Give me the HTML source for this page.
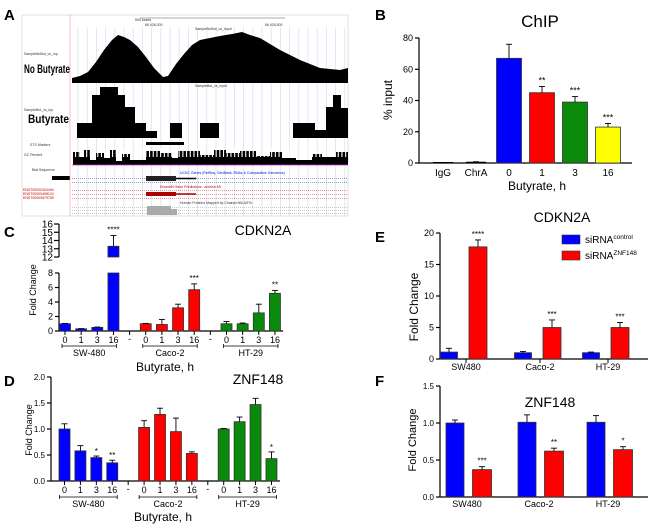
<!DOCTYPE html>
<html><head><meta charset="utf-8"><style>
html,body{margin:0;padding:0;background:#fff;}
svg{display:block;font-family:"Liberation Sans",Arial,sans-serif;}
</style></head><body>
<svg id="fig" width="650" height="529" viewBox="0 0 650 529" xmlns="http://www.w3.org/2000/svg">
<g font-weight="bold" font-size="15">
<text x="4" y="20">A</text>
<text x="375" y="20">B</text>
<text x="4" y="237">C</text>
<text x="375" y="242">E</text>
<text x="4" y="386">D</text>
<text x="375" y="386">F</text>
</g>
<g id="browser">
<rect x="22" y="15" width="326" height="201" fill="#fff" stroke="#ccc" stroke-width="0.6"/>
<g id="stripes"></g>
<line x1="140" y1="18" x2="285" y2="18" stroke="#555" stroke-width="0.6"/>
<text x="135" y="21" font-size="3.5" fill="#333">500 bases</text>
<text x="145" y="26" font-size="3.5" fill="#333">66,926,000</text>
<text x="265" y="26" font-size="3.5" fill="#333">66,926,500</text>
<text x="195" y="30" font-size="3.5" fill="#333">SampleNoBut_vs_input</text>
<text x="24" y="55" font-size="3.5" fill="#333">SampleNoBut_vs_inp</text>
<text x="24" y="111" font-size="3.5" fill="#333">SampleBut_vs_inp</text>
<text x="30" y="146" font-size="3.5" fill="#333">STS Markers</text>
<text x="24" y="156" font-size="3.5" fill="#333">GC Percent</text>
<text x="32" y="171" font-size="3.5" fill="#333">Blat Sequence</text>
<polygon fill="#000" points="72,83 72,78 80,76 88,72 96,62 104,50 112,40 118,35 124,37 130,40 138,47 146,57 154,68 160,74 163,77 168,76 176,64 184,54 192,45 200,40 210,38 220,36 232,34 242,32 250,35 260,38 270,44 280,50 290,55 300,60 310,64 320,68 330,69 340,70 348,68 348,83"/>
<text x="24" y="73" font-size="11.5" font-weight="bold" textLength="46" lengthAdjust="spacingAndGlyphs">No Butyrate</text>
<text x="195" y="87" font-size="3.5" fill="#333">SampleBut_vs_input</text>
<polygon fill="#000" points="72,138 77,138 77,123 92,123 92,95 100,95 100,87 118,87 118,95 125,95 125,107 135,107 135,123 146,123 146,131 157,131 157,138 170,138 170,123 182,123 182,138 200,138 200,123 219,123 219,138 293,138 293,123 315,123 315,130 326,130 326,107 333,107 333,95 341,95 341,108 348,108 348,138"/>
<text x="28" y="123" font-size="11.5" font-weight="bold" textLength="41" lengthAdjust="spacingAndGlyphs">Butyrate</text>
<rect x="146" y="142" width="38" height="3" fill="#000"/>
<g id="gc"></g>
<line x1="72" y1="165" x2="348" y2="165" stroke="#c3c" stroke-width="0.8"/>
<text x="180" y="174" font-size="3.5" fill="#00c">UCSC Genes (RefSeq, GenBank, RNAs &amp; Comparative Genomics)</text>
<line x1="72" y1="178.5" x2="348" y2="178.5" stroke="#339" stroke-width="0.5" stroke-dasharray="1,1"/>
<line x1="72" y1="182.5" x2="348" y2="182.5" stroke="#339" stroke-width="0.5" stroke-dasharray="1,1"/>
<rect x="146" y="176" width="30" height="5" fill="#222"/>
<line x1="176" y1="178.5" x2="196" y2="178.5" stroke="#000" stroke-width="1.5"/>
<rect x="52" y="176" width="18" height="4" fill="#000"/>
<text x="160" y="188" font-size="3.5" fill="#b00">Ensembl Gene Predictions - archive 65</text>
<line x1="72" y1="190.5" x2="348" y2="190.5" stroke="#c33" stroke-width="0.6" stroke-dasharray="1,1"/>
<line x1="72" y1="194.5" x2="348" y2="194.5" stroke="#c33" stroke-width="0.6" stroke-dasharray="1,1"/>
<line x1="72" y1="198.5" x2="348" y2="198.5" stroke="#c33" stroke-width="0.6" stroke-dasharray="1,1"/>
<rect x="146" y="192" width="30" height="4" fill="#a00"/>
<line x1="176" y1="194" x2="196" y2="194" stroke="#a00" stroke-width="1.5"/>
<text x="23" y="191" font-size="3.5" fill="#b00">ENST00000304494</text>
<text x="23" y="195" font-size="3.5" fill="#b00">ENST00000498124</text>
<text x="23" y="199" font-size="3.5" fill="#b00">ENST00000579755</text>
<text x="180" y="204" font-size="3.5" fill="#333">Human Proteins Mapped by Chained tBLASTn</text>
<line x1="72" y1="207.5" x2="348" y2="207.5" stroke="#999" stroke-width="0.5" stroke-dasharray="1,1"/>
<line x1="72" y1="210.5" x2="348" y2="210.5" stroke="#999" stroke-width="0.5" stroke-dasharray="1,1"/>
<line x1="72" y1="213.5" x2="348" y2="213.5" stroke="#999" stroke-width="0.5" stroke-dasharray="1,1"/>
<rect x="147" y="206" width="24" height="3" fill="#aaa"/>
<rect x="147" y="209" width="30" height="3" fill="#aaa"/>
<rect x="147" y="212" width="30" height="3" fill="#aaa"/>
<line x1="70" y1="15" x2="70" y2="216" stroke="#e99" stroke-width="0.6"/>
</g>
<g id="charts"></g>
</svg>
<script>
// ---------- data ----------
const chipCats = ["IgG","ChrA","0","1","3","16"];
const chipVals = [0.3,0.5,67,45,39,23];
const chipErr = [0,0.3,9,4,3.5,2.3];
const chipStars = ["","","","**","***","***"];
const chipTicks = [0,20,40,60,80];

const timeLabels = ["0","1","3","16"];
const groupNames = ["SW-480","Caco-2","HT-29"];
const cVals = [[1.0,0.3,0.5,13.3],[1.0,0.9,3.2,5.7],[1.0,1.0,2.5,5.2]];
const cErr = [[0.05,0.03,0.05,1.3],[0.05,0.7,0.5,0.8],[0.3,0.1,1.2,0.4]];
const cStars = [["","","","****"],["","","","***"],["","","","**"]];
const cTicksLow = [0,2,4,6,8];
const cTicksHigh = [12,13,14,15,16];

const dVals = [[1.0,0.58,0.45,0.35],[1.03,1.28,0.95,0.53],[1.0,1.14,1.47,0.43]];
const dErr = [[0.1,0.1,0.03,0.05],[0.13,0.12,0.26,0.03],[0.01,0.09,0.12,0.13]];
const dStars = [["","","*","**"],["","","",""],["","","","*"]];
const dTicks = [0,0.5,1.0,1.5,2.0];

const siGroups = ["SW480","Caco-2","HT-29"];
const eCtrl = [1.1,1.0,1.0];
const eCtrlErr = [0.6,0.2,0.1];
const eZnf = [17.8,5.0,5.0];
const eZnfErr = [1.1,1.2,0.8];
const eStars = ["****","***","***"];
const eTicks = [0,5,10,15,20];

const fCtrl = [1.0,1.01,1.01];
const fCtrlErr = [0.04,0.1,0.09];
const fZnf = [0.37,0.62,0.64];
const fZnfErr = [0.04,0.04,0.04];
const fStars = ["***","**","*"];
const fTicks = [0,0.5,1.0,1.5];

// ---------- helpers ----------
const NS="http://www.w3.org/2000/svg";
const root=document.getElementById('charts');
function mk(tag,attrs,name,parent){
  const el=document.createElementNS(NS,tag);
  for(const k in attrs) el.setAttribute(k,attrs[k]);
  
  
  (parent||root).appendChild(el);
  return el;
}
function txt(x,y,s,size,name,anchor,extra){
  const a=Object.assign({x:x,y:y,'font-size':size,'text-anchor':anchor||'middle',fill:'#000'},extra||{});
  const t=mk('text',a,name);t.textContent=s;return t;
}
function line(x1,y1,x2,y2,name,w){return mk('line',{x1:x1,y1:y1,x2:x2,y2:y2,stroke:'#000','stroke-width':w||1.2},name);}
function bar(cx,w,yTop,yBase,color,name){
  return mk('rect',{x:cx-w/2,y:Math.min(yTop,yBase),width:w,height:Math.abs(yBase-yTop),fill:color,stroke:'#333','stroke-width':0.8},name);
}
function err(cx,yTop,yErr,name){
  line(cx,yTop,cx,yErr,name,0.9);
  line(cx-3,yErr,cx+3,yErr,name+'-cap',0.9);
}
function rotLabel(x,y,s,size,name){
  const t=mk('text',{x:0,y:0,'font-size':size,'text-anchor':'middle',transform:'translate('+x+','+y+') rotate(-90)'},name);
  t.textContent=s;
}
const BLUE='#0000ff',RED='#ff0000',GREEN='#0a8a0a',YEL='#ffff00';

// ---------- browser decorations ----------
(function(){
  const g=document.getElementById('stripes');
  for(let x=78;x<348;x+=9.2){
    const l=document.createElementNS(NS,'line');
    l.setAttribute('x1',x);l.setAttribute('x2',x);l.setAttribute('y1',27);l.setAttribute('y2',216);
    l.setAttribute('stroke','#dde0f5');l.setAttribute('stroke-width','0.8');
    
    
    g.appendChild(l);
  }
  const gc=document.getElementById('gc');
  const segs=[[73,80,152],[80,84,157],[84,90,150],[90,96,160],[96,104,153],[104,110,158],[110,116,150],[116,122,161],[122,130,154],[130,146,160],[146,160,151],[160,172,153],[172,178,158],[178,200,151],[200,214,155],[214,226,150],[226,240,153],[240,256,151],[256,270,156],[270,282,152],[282,296,158],[296,312,160],[312,322,154],[322,336,157],[336,348,152]];
  segs.forEach(s=>{
    const r=document.createElementNS(NS,'rect');
    r.setAttribute('x',s[0]);r.setAttribute('y',s[2]);r.setAttribute('width',s[1]-s[0]);r.setAttribute('height',165-s[2]);
    r.setAttribute('fill','#000');
    
    
    gc.appendChild(r);
  });
  for(let x=75;x<346;x+=3.7){
    const r=document.createElementNS(NS,'rect');
    r.setAttribute('x',x);r.setAttribute('y',148);r.setAttribute('width',1.1);r.setAttribute('height',9);r.setAttribute('fill','#fff');
    
    
    gc.appendChild(r);
  }
})();

// ---------- Panel B: ChIP ----------
(function(){
  const x0=419,x1=632,yB=163,yT=38,vmax=80;
  const y=v=>yB-(v/vmax)*(yB-yT);
  const xs=i=>443+i*33;
  const cols=['#fff','#fff',BLUE,RED,GREEN,YEL];
  txt(540,27,'ChIP',17,'chip-title');
  line(x0,yT,x0,yB,'chip-y-axis');
  line(x0,yB,x1,yB,'chip-x-axis');
  chipTicks.forEach(t=>{line(x0-4,y(t),x0,y(t),'chip-y-tick');txt(x0-6,y(t)+3,String(t),9,'chip-y-tick-label','end');});
  chipCats.forEach((c,i)=>{
    const cx=xs(i);
    if(i>=2) bar(cx,25,y(chipVals[i]),yB,cols[i],'chip-bar-'+c);
    else line(cx-10,y(chipVals[i]),cx+10,y(chipVals[i]),'chip-bar-'+c,1);
    if(chipErr[i]>0) err(cx,y(chipVals[i]),y(chipVals[i]+chipErr[i]),'chip-error-'+c);
    if(chipStars[i]) txt(cx,y(chipVals[i]+chipErr[i])-3,chipStars[i],9,'chip-significance');
    txt(cx,176,c,10,'chip-x-tick-label');
  });
  txt(537,190,'Butyrate, h',12,'chip-x-axis-title');
  rotLabel(392,100,'% input',12,'chip-y-axis-title');
})();

// ---------- Panel C: CDKN2A time course (broken axis) ----------
(function(){
  const ax=59,xe=283;
  const yLow=v=>331-v*7.25, yHigh=v=>257-(v-12)*8.25;
  const xc=i=>65+i*16.15;
  const cols=[BLUE,RED,GREEN];
  txt(263,235,'CDKN2A',14,'cdkn2a-time-title');
  line(ax,224,ax,257,'cdkn2a-time-y-axis-upper');
  line(ax,273,ax,331,'cdkn2a-time-y-axis-lower');
  line(ax,331,xe,331,'cdkn2a-time-x-axis');
  cTicksLow.forEach(t=>{line(ax-4,yLow(t),ax,yLow(t),'y-tick');txt(ax-6,yLow(t)+3,String(t),9,'y-tick-label','end');});
  cTicksHigh.forEach(t=>{line(ax-5,yHigh(t),ax,yHigh(t),'y-tick');txt(ax-6,yHigh(t)+3.5,String(t),10,'y-tick-label','end');});
  groupNames.forEach((g,gi)=>{
    timeLabels.forEach((tl,ti)=>{
      const cx=xc(gi*5+ti), v=cVals[gi][ti], e=cErr[gi][ti];
      let top;
      if(v>8){
        bar(cx,11,yLow(8),331,cols[gi],'cdkn2a-bar-'+g+'-'+tl);
        top=yHigh(v);
        bar(cx,11,top,yHigh(12),cols[gi],'cdkn2a-bar-upper-'+g+'-'+tl);
        err(cx,top,yHigh(v+e),'cdkn2a-error');
        if(cStars[gi][ti]) txt(cx,yHigh(v+e)-3,cStars[gi][ti],8,'cdkn2a-significance');
      } else {
        top=yLow(v);
        bar(cx,11,top,331,cols[gi],'cdkn2a-bar-'+g+'-'+tl);
        err(cx,top,yLow(v+e),'cdkn2a-error');
        if(cStars[gi][ti]) txt(cx,yLow(v+e)-3,cStars[gi][ti],8,'cdkn2a-significance');
      }
      line(cx,331,cx,335,'x-tick',1);
      txt(cx,343,tl,9,'x-tick-label');
    });
    line(xc(gi*5)-3,346,xc(gi*5+3)+3,346,'group-bracket',0.8);
    line(xc(gi*5)-3,344,xc(gi*5)-3,348,'group-bracket-end',0.8);
    line(xc(gi*5+3)+3,344,xc(gi*5+3)+3,348,'group-bracket-end',0.8);
    txt((xc(gi*5)+xc(gi*5+3))/2,356,g,9,'group-label');
    if(gi<2){line(xc(gi*5+4),331,xc(gi*5+4),335,'x-tick',1);txt(xc(gi*5+4),342,'-',9,'x-tick-label');}
  });
  txt(165,371,'Butyrate, h',12,'cdkn2a-time-x-axis-title');
  rotLabel(36,290,'Fold Change',9,'cdkn2a-time-y-axis-title');
})();

// ---------- Panel D: ZNF148 time course ----------
(function(){
  const ax=51,xe=280,yB=481,yT=377,vmax=2;
  const y=v=>yB-(v/vmax)*(yB-yT);
  const xc=i=>64.5+i*15.92;
  const cols=[BLUE,RED,GREEN];
  txt(258,384,'ZNF148',14,'znf148-time-title');
  line(ax,yT,ax,yB,'znf148-time-y-axis');
  line(ax,yB,xe,yB,'znf148-time-x-axis');
  dTicks.forEach(t=>{line(ax-4,y(t),ax,y(t),'y-tick');txt(ax-6,y(t)+3,t.toFixed(1),8,'y-tick-label','end');});
  groupNames.forEach((g,gi)=>{
    timeLabels.forEach((tl,ti)=>{
      const cx=xc(gi*5+ti), v=dVals[gi][ti], e=dErr[gi][ti];
      bar(cx,11,y(v),yB,cols[gi],'znf148-bar-'+g+'-'+tl);
      err(cx,y(v),y(v+e),'znf148-error');
      if(dStars[gi][ti]) txt(cx,y(v+e)-2,dStars[gi][ti],8,'znf148-significance');
      line(cx,yB,cx,yB+4,'x-tick',1);
      txt(cx,493,tl,9,'x-tick-label');
    });
    line(xc(gi*5)-5,497,xc(gi*5+3)+5,497,'group-bracket',0.8);
    line(xc(gi*5)-5,495,xc(gi*5)-5,499,'group-bracket-end',0.8);
    line(xc(gi*5+3)+5,495,xc(gi*5+3)+5,499,'group-bracket-end',0.8);
    txt((xc(gi*5)+xc(gi*5+3))/2,507,g,9,'group-label');
    if(gi<2){line(xc(gi*5+4),yB,xc(gi*5+4),yB+4,'x-tick',1);txt(xc(gi*5+4),492,'-',9,'x-tick-label');}
  });
  txt(163,521,'Butyrate, h',12,'znf148-time-x-axis-title');
  rotLabel(32,430,'Fold Change',9,'znf148-time-y-axis-title');
})();

// ---------- Panel E: CDKN2A siRNA ----------
(function(){
  const ax=440,xe=648,yB=359,yT=233,vmax=20;
  const y=v=>yB-(v/vmax)*(yB-yT);
  const gc=[466,540,608];
  txt(562,222,'CDKN2A',14,'cdkn2a-sirna-title');
  line(ax,yT,ax,yB,'cdkn2a-sirna-y-axis');
  line(ax,yB,xe,yB,'cdkn2a-sirna-x-axis');
  eTicks.forEach(t=>{line(ax-4,y(t),ax,y(t),'y-tick');txt(ax-6,y(t)+3,String(t),9,'y-tick-label','end');});
  siGroups.forEach((g,i)=>{
    const cb=gc[i]-17, cr=gc[i]+12;
    bar(cb,17,y(eCtrl[i]),yB,BLUE,'cdkn2a-sirna-control-bar-'+g);
    err(cb,y(eCtrl[i]),y(eCtrl[i]+eCtrlErr[i]),'cdkn2a-sirna-control-error');
    bar(cr,18,y(eZnf[i]),yB,RED,'cdkn2a-sirna-znf148-bar-'+g);
    err(cr,y(eZnf[i]),y(eZnf[i]+eZnfErr[i]),'cdkn2a-sirna-znf148-error');
    txt(cr,y(eZnf[i]+eZnfErr[i])-3,eStars[i],8,'cdkn2a-sirna-significance');
    line(gc[i],yB,gc[i],yB+4,'x-tick',1);
    txt(gc[i],370,g,9,'x-tick-label');
  });
  rotLabel(418,307,'Fold Change',12,'cdkn2a-sirna-y-axis-title');
  mk('rect',{x:562,y:235,width:18,height:9,fill:BLUE,stroke:'#333','stroke-width':0.6},'legend-swatch-control');
  mk('rect',{x:562,y:251,width:18,height:9,fill:RED,stroke:'#333','stroke-width':0.6},'legend-swatch-znf148');
  const l1=txt(585,243,'siRNA',10,'legend-entry-control','start');
  const s1=document.createElementNS(NS,'tspan');s1.setAttribute('dy','-4');s1.setAttribute('font-size','6.5');s1.textContent='control';l1.appendChild(s1);
  const l2=txt(585,259,'siRNA',10,'legend-entry-znf148','start');
  const s2=document.createElementNS(NS,'tspan');s2.setAttribute('dy','-4');s2.setAttribute('font-size','6.5');s2.textContent='ZNF148';l2.appendChild(s2);
})();

// ---------- Panel F: ZNF148 siRNA ----------
(function(){
  const ax=440,xe=648,yB=497,yT=386,vmax=1.5;
  const y=v=>yB-(v/vmax)*(yB-yT);
  const gc=[467,539,608];
  txt(550,407,'ZNF148',14,'znf148-sirna-title');
  line(ax,yT,ax,yB,'znf148-sirna-y-axis');
  line(ax,yB,xe,yB,'znf148-sirna-x-axis');
  fTicks.forEach(t=>{line(ax-4,y(t),ax,y(t),'y-tick');txt(ax-6,y(t)+3,t.toFixed(1),8,'y-tick-label','end');});
  siGroups.forEach((g,i)=>{
    const cb=gc[i]-12, cr=gc[i]+15;
    bar(cb,18,y(fCtrl[i]),yB,BLUE,'znf148-sirna-control-bar-'+g);
    err(cb,y(fCtrl[i]),y(fCtrl[i]+fCtrlErr[i]),'znf148-sirna-control-error');
    bar(cr,19,y(fZnf[i]),yB,RED,'znf148-sirna-znf148-bar-'+g);
    err(cr,y(fZnf[i]),y(fZnf[i]+fZnfErr[i]),'znf148-sirna-znf148-error');
    txt(cr,y(fZnf[i]+fZnfErr[i])-3,fStars[i],8,'znf148-sirna-significance');
    txt(gc[i],507,g,9,'x-tick-label');
  });
  rotLabel(416,440,'Fold Change',11,'znf148-sirna-y-axis-title');
})();
</script>
</body></html>
